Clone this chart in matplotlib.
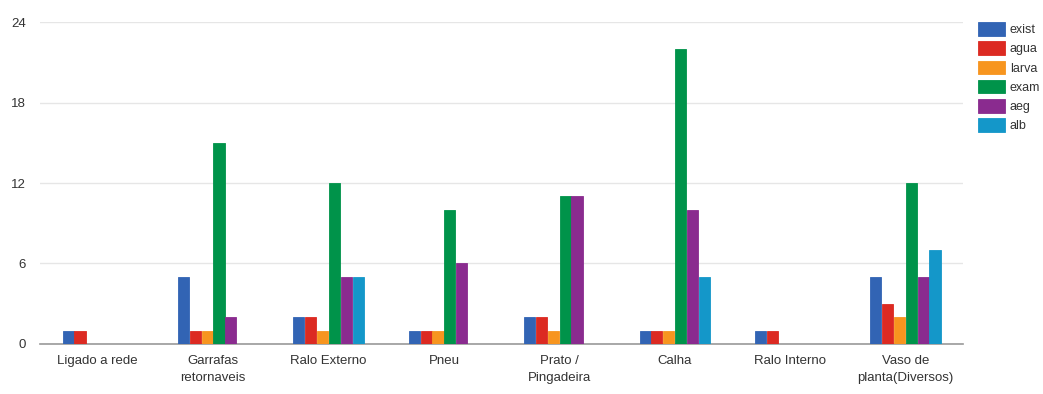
import matplotlib

matplotlib.use("Agg")

import matplotlib.pyplot as plt
import numpy as np

plt.rcParams["font.family"] = ["Liberation Sans", "DejaVu Sans"]

categories = [
    "Ligado a rede",
    "Garrafas\nretornaveis",
    "Ralo Externo",
    "Pneu",
    "Prato /\nPingadeira",
    "Calha",
    "Ralo Interno",
    "Vaso de\nplanta(Diversos)",
]
series_names = ["exist", "agua", "larva", "exam", "aeg", "alb"]
exist = [1, 5, 2, 1, 2, 1, 1, 5]
agua = [1, 1, 2, 1, 2, 1, 1, 3]
larva = [0, 1, 1, 1, 1, 1, 0, 2]
exam = [0, 15, 12, 10, 11, 22, 0, 12]
aeg = [0, 2, 5, 6, 11, 10, 0, 5]
alb = [0, 0, 5, 0, 0, 5, 0, 7]
yticks = [0, 6, 12, 18, 24]

colors = ["#3264b4", "#dc2a22", "#f7951f", "#00934a", "#8a2b8f", "#1497c9"]
values = [exist, agua, larva, exam, aeg, alb]

fig = plt.figure(figsize=(10.43, 3.94), dpi=100)
ax = fig.add_axes([0.0384, 0.127, 0.885, 0.817])

x = np.arange(len(categories))
n = len(series_names)
width = 0.615 / n
for i, (name, vals, color) in enumerate(zip(series_names, values, colors)):
    offset = (i - (n - 1) / 2) * width
    ax.bar(x + offset, vals, width=width * 0.94, color=color, edgecolor=color,
           linewidth=0.6, label=name, zorder=5)

ax.set_xlim(-0.5, len(categories) - 0.5)
ax.set_ylim(0, 24)
ax.set_yticks(yticks)
ax.set_xticks(x)
ax.set_xticklabels(categories, fontsize=9.5, color="#333333", linespacing=1.55)
ax.tick_params(axis="both", length=0, colors="#333333", labelsize=9.5)
ax.tick_params(axis="x", pad=8)
ax.tick_params(axis="y", pad=10)

ax.grid(axis="y", color="#e6e6e6", linewidth=1.0, zorder=0)
for side in ["top", "right", "left"]:
    ax.spines[side].set_visible(False)
ax.spines["bottom"].set_color("#999999")
ax.spines["bottom"].set_linewidth(1.2)
ax.spines["bottom"].set_zorder(4)

leg = ax.legend(loc="upper left", bbox_to_anchor=(1.016, 1.0), frameon=False,
                fontsize=9, handlelength=2.15, handleheight=1.3,
                handletextpad=0.4, labelspacing=0.42, borderaxespad=0,
                borderpad=0)
for t in leg.get_texts():
    t.set_color("#333333")

fig.savefig("out.png", dpi=100, facecolor="white")
